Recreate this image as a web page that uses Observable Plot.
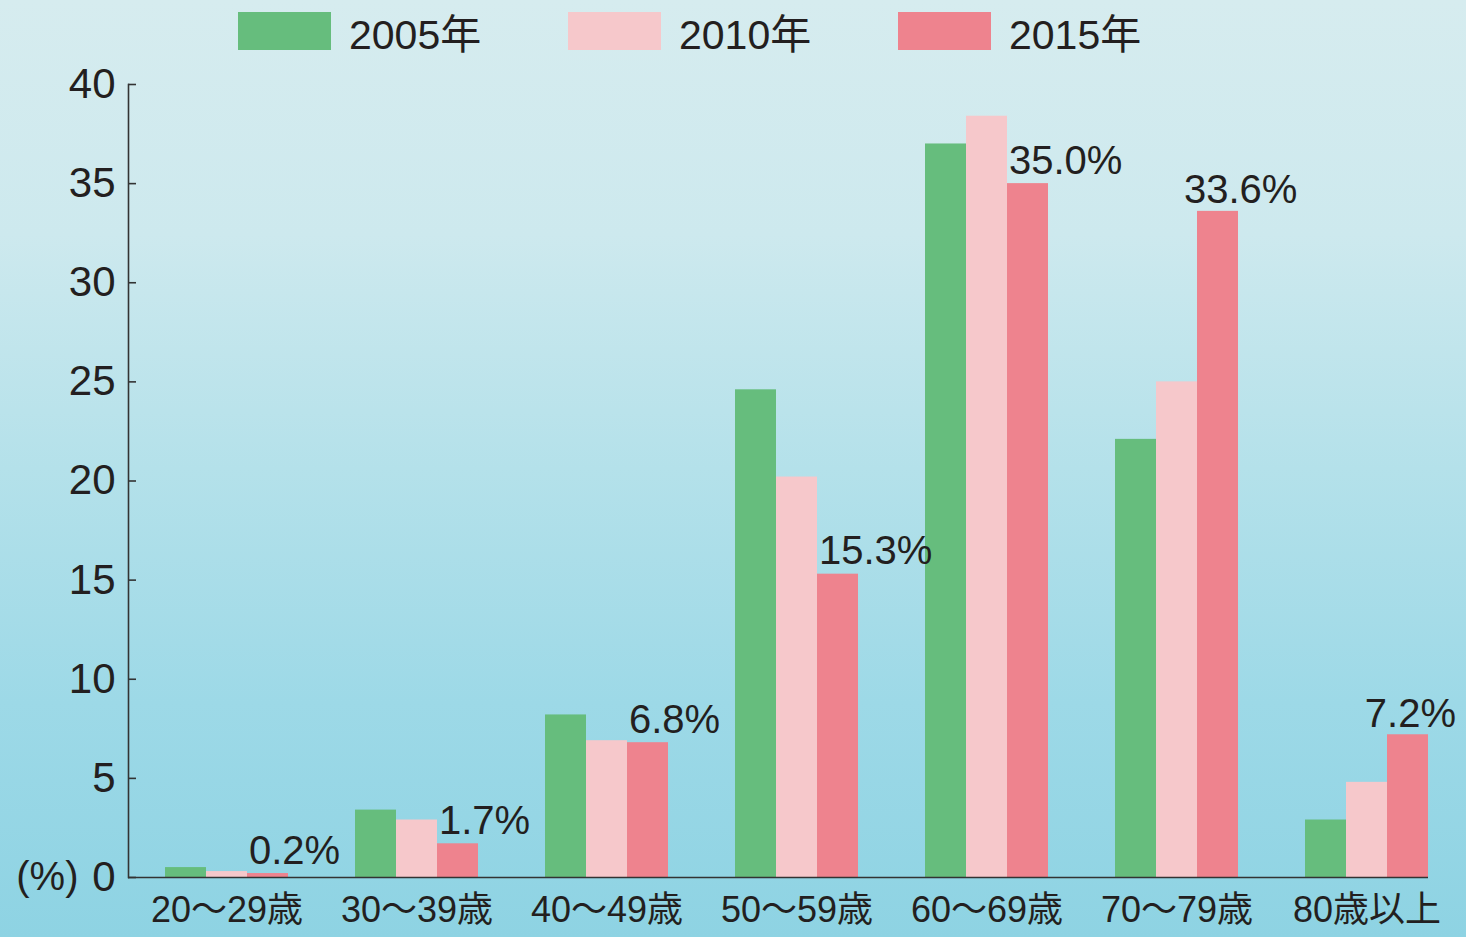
<!DOCTYPE html>
<html><head><meta charset="utf-8">
<script src="https://cdn.jsdelivr.net/npm/d3@7"></script>
<script src="https://cdn.jsdelivr.net/npm/@observablehq/plot@0.6"></script>
<style>
html,body{margin:0;padding:0;width:1466px;height:937px;overflow:hidden;}
body{position:relative;background:linear-gradient(to bottom,#d6ecef 0%,#cde9ee 25%,#b4e1ea 50%,#9dd9e7 75%,#8ed3e3 100%);font-family:"Liberation Sans","Noto Sans CJK JP",sans-serif;color:#231f20;}
#legend{position:absolute;left:238px;top:12px;display:flex;}
.item{width:330px;display:flex;align-items:center;height:38px;font-size:41px;}
.sw{width:93px;height:38px;margin-right:18px;flex:none;}
#chart{position:absolute;left:0;top:60px;}
</style></head>
<body>
<div id="legend"></div>
<div id="chart"></div>
<script>
const categories = ["20〜29歳","30〜39歳","40〜49歳","50〜59歳","60〜69歳","70〜79歳","80歳以上"];
const years = ["2005年","2010年","2015年"];
const values2005 = [0.5, 3.4, 8.2, 24.6, 37.0, 22.1, 2.9];
const values2010 = [0.3, 2.9, 6.9, 20.2, 38.4, 25.0, 4.8];
const values2015 = [0.2, 1.7, 6.8, 15.3, 35.0, 33.6, 7.2];
const yTicks = [0, 5, 10, 15, 20, 25, 30, 35, 40];
const colors = ["#66bd7d", "#f6c8cb", "#ee838e"];

const series = [values2005, values2010, values2015];
const data = categories.flatMap((c, i) => years.map((y, j) => ({category: c, year: y, value: series[j][i]})));
const labels = categories.map((c, i) => ({category: c, value: values2015[i], text: values2015[i].toFixed(1) + "%"}));

// legend
const legend = document.getElementById("legend");
years.forEach((y, j) => {
  const it = document.createElement("div"); it.className = "item";
  const sw = document.createElement("div"); sw.className = "sw"; sw.style.background = colors[j];
  const t = document.createElement("span"); t.textContent = y;
  it.appendChild(sw); it.appendChild(t); legend.appendChild(it);
});

const BW = 41;
const insets = [{insetLeft: 0, insetRight: 2 * BW}, {insetLeft: BW, insetRight: BW}, {insetLeft: 2 * BW, insetRight: 0}];
const font = "'Liberation Sans','Noto Sans CJK JP',sans-serif";

const chart = Plot.plot({
  width: 1466,
  height: 877,
  marginLeft: 128,
  marginRight: 38,
  marginTop: 24,
  marginBottom: 60,
  style: {background: "transparent", fontFamily: font, color: "#231f20", overflow: "visible"},
  x: {domain: categories, paddingInner: 0.353, paddingOuter: 0.0946, align: 1, label: null},
  y: {domain: [0, 40], label: null},
  marks: [
    ...years.map((y, j) => Plot.barY(data.filter(d => d.year === y), {x: "category", y: "value", fill: colors[j], ...insets[j]})),
    Plot.ruleY([0], {stroke: "#333", strokeWidth: 1.6}),
    Plot.frame({anchor: "left", stroke: "#333", strokeWidth: 1.6}),
    Plot.axisY({ticks: yTicks, tickSize: 8, dx: 8, tickFormat: () => "", label: null, stroke: "#333", strokeWidth: 1.6}),
    Plot.axisY({ticks: yTicks, tickSize: 0, tickPadding: 13, fontSize: 42, label: null, fill: "#231f20"}),
    Plot.axisX({tickSize: 0, tickPadding: 19, fontSize: 36, label: null, fill: "#231f20"}),
    Plot.text([0], {y: 0, frameAnchor: "left", dx: -50, text: () => "(%)", textAnchor: "end", fontSize: 40, fill: "#231f20"}),
    Plot.text(labels.slice(0, 5), {x: "category", y: "value", text: "text", textAnchor: "start", lineAnchor: "bottom", dx: 22, dy: -10, fontSize: 40, fill: "#231f20"}),
    Plot.text(labels.slice(5, 6), {x: "category", y: "value", text: "text", textAnchor: "start", lineAnchor: "bottom", dx: 7, dy: -8, fontSize: 40, fill: "#231f20"}),
    Plot.text(labels.slice(6), {x: "category", y: "value", text: "text", textAnchor: "end", lineAnchor: "bottom", dx: 89, dy: -8, fontSize: 40, fill: "#231f20"})
  ]
});
document.getElementById("chart").appendChild(chart);
</script>
</body></html>
